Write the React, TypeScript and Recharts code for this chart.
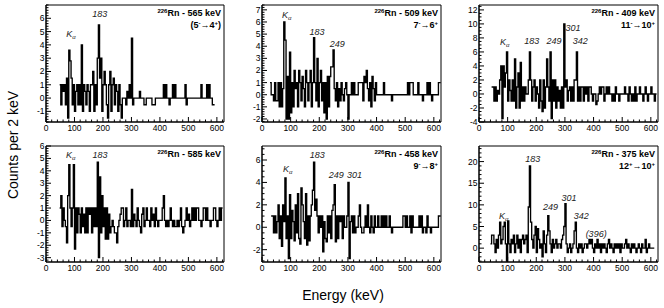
import React from 'react';
import { LineChart, Line, XAxis, YAxis, ReferenceArea, ReferenceDot } from 'recharts';

// histogram bins are 4 keV wide, each array starts at the given energy
const BIN = 4;
const X_MAX = 625;
const energyTicks = [0, 100, 200, 300, 400, 500, 600];

const rn565Start = 48;
const rn565 = [
  1, -0.5, 1, 0.5, 1, -0.5, 1.5, -1.5, 3.6, 2.8,
  1.5, -0.5, 1, -1, 0.5, 1, -0.5, 1, -0.5, 4,
  -1, 1, 0.5, -0.5, 1, 0.5, -1, 1, 1, 2,
  -1, 1, -0.5, 3, 5.5, 1.5, 3, -1, 1, 2,
  1, -0.5, -1.5, 1, 2, -1, 1, 1.5, -0.5, 1,
  0.5, -1, 1, -0.5, -1.5, 0, 0, 0, -0.5, 0.5,
  0, 1, 0, 4.5, -0.5, 0, 0, 0, 0, 0,
  0.5, 0, 0, 0, -0.5, -0.5, 0, 0, 0, 0,
  0, -0.5, -0.5, -0.5, 0, 0, 0, 0, 0, 0,
  0, 1, 0, 1, 0, 0, -0.5, 0, 0, 1,
  0, 1, 0, 0, 0, 0, 0, 0, 0, 0,
  1, -0.5, 0, 0, 0, 0, 0, 0, 0, 0,
  0, 0, 0, 0, 1, 0, 0, 0, 0, 1,
  0, 1, 0, 0, -0.5, -0.5,
];
const rn565YTicks = [-1, 0, 1, 2, 3, 4, 5, 6];
const rn565Peaks = [
  { text: 'Ka', e: 88, c: 4.8 },
  { text: '183', e: 189, c: 6.3 },
];

const rn509Start = 28;
const rn509 = [
  1, 0, 0, -0.5, 1, -0.5, -0.5, 1, -1, 1,
  -1, 0.5, 6, 4.5, -2, 1.5, -2, 3.5, -1.5, 1,
  -1, 2, 0.5, 1, -1, 2, 1, -0.5, 1.5, 0.5,
  -1, 2, 1, -0.5, 1, 2, -1, 1, 4.7, 1,
  -0.5, 3, -1, 1, 2, -0.5, 1, -1.5, 1, -2,
  1.5, -1, 1.5, 2.3, 2.3, 3.7, 0.5, -0.5, 1, -1,
  0.5, -0.5, 1, 0, -0.5, 0.5, 1, 0, -2, 0,
  0, 1, 0, 1, 0, 0, 0, 1, 1, 1,
  1, -0.5, 1.5, 1, 2, 0.5, -0.5, 1, -1, 1.5,
  0.5, -0.5, 1, 0, 0, 0, 0, 0, 0, 1,
  0, 0, 0, 0, 0, 0, -0.5, 0, 0, 0,
  0, 0, 0, 0, 0, 0, 0, 0, 0, 0,
  1, 0, 1, 1, 1, 0, 0, 0, 0, 1,
  0, 0, 0, -0.5, 0, 0, 0, 1, 0, 1,
  0, -0.5, 0, 0, 0, 0, 0, 1, 1,
];
const rn509YTicks = [-2, -1, 0, 1, 2, 3, 4, 5, 6, 7];
const rn509Peaks = [
  { text: 'Ka', e: 86, c: 6.6 },
  { text: '183', e: 192, c: 5.2 },
  { text: '249', e: 263, c: 4.2 },
];

const rn409Start = 44;
const rn409 = [
  1, 1, -1, 1, -1, 0.5, 0, 2, 4, -3.5,
  4, 1, 3, 6, -1, 2, 0.5, -1, 2, -1,
  5, -2, 1, 3, -2, 4.5, -1, 1, -1, 1,
  0, 0, 2, 6, 2, -1, 1, 2, -1, 1,
  0, -2, 2, -1, -2.5, 2, -2, 1, 5, 1,
  -1, 6, -3.5, 2, -1, 2, -2, 1, -1, 0.5,
  -2, 1, -2, 10, 1, 2, -1, 0.5, 1, -1,
  1, -1, 2, 2, 6, -1, 1, -1, 1, 1,
  -1, 1, 0, 1, -1, 1, 1, 0, -1, 0,
  0, -1.5, -1, 0, 1, 0, 1, 1, -1, 0,
  1, 0, 1, 0, 0, -1, 0, -1, 1, 0,
  0, -1, 0, 0, 0, 0, 1, 0, 0, -1,
  1, 0, -1, 0, -1, 1, -1, 0, 0, 1,
  0, 0, -1, 0, 1, 0, -1, 0, 0, 1,
  0, 0, -1, 0,
];
const rn409YTicks = [-4, -2, 0, 2, 4, 6, 8, 10, 12];
const rn409Peaks = [
  { text: 'Ka', e: 90, c: 7.4 },
  { text: '183', e: 184, c: 7.5 },
  { text: '249', e: 262, c: 7.5 },
  { text: '301', e: 328, c: 9.4 },
  { text: '342', e: 354, c: 7.5 },
];

const rn585Start = 48;
const rn585 = [
  1, 2, -0.5, 1, 0, -0.5, -1.8, 2, 4.5, 1,
  -0.5, 1, 4.5, -2.3, 1, -1, 1, 0.5, -1, 1,
  -0.5, 0.5, -1, 1, -1, 1, 0.5, 1, -1, 1,
  -0.5, 1, -0.5, 4.7, -3, 3.5, -1, 2, -0.5, 1,
  -1.5, 1, -1.5, 0.5, -1, -0.5, 0, -0.5, -1, -1,
  -1.8, -0.5, 0, 0.5, 1, 1, -0.5, 0, 1, -0.5,
  0, 0, -0.5, 2.5, -0.5, 0.5, 0, -0.5, 1, 0,
  -0.5, -1, 0.5, 1, -0.5, 0, 1, 0, 0, -0.5,
  1, 0, 0.5, -0.5, 1, 0, -0.5, 0, 0, 0,
  1, 2, 0, -0.5, 0, -0.5, 0, 1, 0, -0.5,
  0, -0.5, -0.5, 0, -0.5, 0, 1, -0.5, -1, -0.5,
  0, 1, 0, 0.5, -0.5, 0, 1, 0, 1, 0,
  1, 1, 0, 0, -0.5, 0, 1, 1, 0, 1,
  0, 0, -0.5, 0, 0, 1, 1, 0, -0.5, 0,
  1, 0, 1,
];
const rn585YTicks = [-3, -2, -1, 0, 1, 2, 3, 4, 5, 6];
const rn585Peaks = [
  { text: 'Ka', e: 87, c: 5.3 },
  { text: '183', e: 190, c: 5.3 },
];

const rn458Start = 32;
const rn458 = [
  1, 1, -0.5, 1, -0.5, 0.5, 2, -1, 1, -1.7,
  2, 0.5, 4.4, -1, 1, -2.8, 2.9, -1, 1.5, 0.5,
  -1.2, 2, -0.5, 3, -1, -1.5, 3.5, 2, 0.5, -1,
  3, -1.6, 1, -1.2, 1, 2, 3.3, 5.8, 1.5, 2.5,
  1, -0.5, 1, 0, 1, -2.2, 0.5, -1, -1.3, 1,
  -0.5, 1, -1, 1.5, 2, 3.8, -1.3, 1, -1, 1,
  0.5, 1, -1, 1, 0, 0, 1, 4, -2.8, 0.5,
  1, -0.5, 1, -0.5, 0, 0, 1, 2, 0, -0.5,
  -0.5, 0, 1, 0, 2, 0, -0.5, 1, 0, -0.5,
  1, 0, 0, 1, 0, 0, 1, 0, 1, 0,
  1, 0, 0, 1, 0, -0.5, 0, 0, 0, 0,
  0, 0, 0, 0, 0, 1, 1, 0, 1, 0,
  0, 1, -0.5, 1, 0, 0, 0, 0, 0, 1,
  0, 1, -0.5, 0, 0, -0.5, 1, 0, 0, -0.5,
  0, 0, 0, 0, 0, 0, 1, 1,
];
const rn458YTicks = [-2, 0, 2, 4, 6];
const rn458Peaks = [
  { text: 'Ka', e: 90, c: 5.2 },
  { text: '183', e: 193, c: 6.45 },
  { text: '249', e: 259, c: 4.7 },
  { text: '301', e: 323, c: 4.7 },
];

const rn375Start = 40;
const rn375 = [
  1, 3, 3, 1, -1, 2, 0, 3, 6, 1,
  2, 5, 6, 1, -3, 6.3, 1, -1, 2, 1,
  3, -1, 1, 3, 0, 2, -1, 2, 3, 1,
  2, 3, -1, 9.5, 19, 6, 2, 0, 3, 5,
  -1, 4.5, 2, 0, 1, -2, 4, 1, -1, 3,
  7.5, 4, 1, -1, 2, 0, 1, 2, 0, 1,
  1, 0, 2, 3, 5, 10.3, 1, -1, 0, 1,
  -1, 0, 1, 4, 6, 0, -1, 1, 0, 1,
  -1, 0, 1, 1, 0, 1, 2, 1, 2, 0,
  -1, 1, 0, 2, 0, 1, -1, 1, 0, 1,
  0, -1, 1, 2, 0, 1, 0, -1, 1, 0,
  1, 0, 1, -1, 1, 0, 0, 1, 2, 0,
  1, 0, -1, 1, 0, 1, 0, -1, 0, 1,
  0, -1, 1, 0, 0, 2, -1, 0, 1, 0,
  0, 0, 0,
];
const rn375YTicks = [0, 5, 10, 15, 20];
const rn375Peaks = [
  { text: 'Ka', e: 86, c: 7.5 },
  { text: '183', e: 188, c: 20.6 },
  { text: '249', e: 250, c: 9.6 },
  { text: '301', e: 314, c: 11.5 },
  { text: '342', e: 357, c: 7.5 },
  { text: '(396)', e: 409, c: 3.3 },
];

const panels = [
  { energy: '565', trans: ['5', '-', '4', '+'], paren: true, start: rn565Start, counts: rn565, yTicks: rn565YTicks, peaks: rn565Peaks,
    yDomain: [-1.8, 7], yMinor: 0.2, left: 46, right: 224, top: 5, bottom: 122 },
  { energy: '509', trans: ['7', '-', '6', '+'], paren: false, start: rn509Start, counts: rn509, yTicks: rn509YTicks, peaks: rn509Peaks,
    yDomain: [-2.25, 7.4], yMinor: 0.2, left: 262, right: 441, top: 5, bottom: 122 },
  { energy: '409', trans: ['11', '-', '10', '+'], paren: false, start: rn409Start, counts: rn409, yTicks: rn409YTicks, peaks: rn409Peaks,
    yDomain: [-4, 12.7], yMinor: 0.5, left: 479, right: 658, top: 5, bottom: 122 },
  { energy: '585', trans: null, paren: false, start: rn585Start, counts: rn585, yTicks: rn585YTicks, peaks: rn585Peaks,
    yDomain: [-3.35, 6], yMinor: 0.2, left: 46, right: 224, top: 146, bottom: 262 },
  { energy: '458', trans: ['9', '-', '8', '+'], paren: false, start: rn458Start, counts: rn458, yTicks: rn458YTicks, peaks: rn458Peaks,
    yDomain: [-3.1, 7.25], yMinor: 0.5, left: 262, right: 441, top: 146, bottom: 262 },
  { energy: '375', trans: ['12', '+', '10', '+'], paren: false, start: rn375Start, counts: rn375, yTicks: rn375YTicks, peaks: rn375Peaks,
    yDomain: [-3.2, 23.6], yMinor: 1, left: 479, right: 658, top: 146, bottom: 262 },
];

const FONT = '"Liberation Sans", Arial, Helvetica, sans-serif';

function toBins(start: number, counts: number[]) {
  const rows = counts.map((v, i) => ({ e: start + BIN * i, v }));
  rows.push({ e: start + BIN * counts.length, v: counts[counts.length - 1] });
  return rows;
}

function steps(lo: number, hi: number, step: number) {
  const out: number[] = [];
  for (let k = Math.ceil(lo / step - 1e-9); k * step <= hi + 1e-9; k++) {
    out.push(Math.round(k * step * 1000) / 1000);
  }
  return out;
}

const xMinorTicks = steps(0, X_MAX, 20);

const isMajor = (list: number[], v: number) => list.some((t) => Math.abs(t - v) < 1e-6);

function XTick(props: any) {
  const { x, y, payload } = props;
  const major = isMajor(energyTicks, payload.value);
  return (
    <g>
      <line x1={x} x2={x} y1={y} y2={y - (major ? 5 : 2.5)} stroke="#000" strokeWidth={1} />
      {major && (
        <text x={x} y={y + 8.5} textAnchor="middle" fontSize={8.5} fontFamily={FONT} fill="#000">
          {payload.value}
        </text>
      )}
    </g>
  );
}

function YTick(props: any) {
  const { x, y, payload, majors } = props;
  const major = isMajor(majors, payload.value);
  return (
    <g>
      <line x1={x} x2={x + (major ? 5 : 2.5)} y1={y} y2={y} stroke="#000" strokeWidth={1} />
      {major && (
        <text x={x - 1.5} y={y + 3} textAnchor="end" fontSize={8.5} fontFamily={FONT} fill="#000">
          {payload.value}
        </text>
      )}
    </g>
  );
}

const peakLabel = (text: string) => (props: any) => {
  const vb = props.viewBox || {};
  const x = vb.cx ?? vb.x + (vb.width || 0) / 2;
  const y = vb.cy ?? vb.y + (vb.height || 0) / 2;
  if (text === 'Ka') {
    return (
      <text x={x} y={y + 3} textAnchor="middle" fontSize={9} fontStyle="italic" fontFamily={FONT} fill="#222">
        <tspan>K</tspan>
        <tspan fontSize={6} dy={2}>α</tspan>
      </text>
    );
  }
  return (
    <text x={x} y={y + 3} textAnchor="middle" fontSize={9} fontStyle="italic" fontFamily={FONT} fill="#222">
      {text}
    </text>
  );
};

const supStyle: React.CSSProperties = { fontSize: '6px', verticalAlign: '3px', lineHeight: 0 };

function Title({ p }: { p: any }) {
  return (
    <div
      style={{
        position: 'absolute', left: p.right - 163, width: 160, top: p.top + 2, textAlign: 'right',
        fontFamily: FONT, fontWeight: 'bold', fontSize: '9px', lineHeight: '12px', color: '#000',
      }}
    >
      <div><sup style={supStyle}>226</sup>Rn - {p.energy} keV</div>
      {p.trans && (
        <div>
          {p.paren ? '(' : ''}{p.trans[0]}<sup style={supStyle}>{p.trans[1]}</sup>→{p.trans[2]}<sup style={supStyle}>{p.trans[3]}</sup>{p.paren ? ')' : ''}
        </div>
      )}
    </div>
  );
}

function Panel({ p }: { p: any }) {
  const AX = 30;
  const AY = 20;
  const PAD = 8;
  const w = p.right - p.left;
  const h = p.bottom - p.top;
  const data = toBins(p.start, p.counts);
  const yMinorTicks = steps(p.yDomain[0], p.yDomain[1], p.yMinor);
  return (
    <>
      <div style={{ position: 'absolute', left: p.left - AX, top: p.top - PAD }}>
        <LineChart width={w + AX + 3} height={h + PAD + AY} data={data} margin={{ top: PAD, right: 3, bottom: 0, left: 0 }}>
          <XAxis
            dataKey="e" type="number" domain={[0, X_MAX]} ticks={xMinorTicks} interval={0}
            tickSize={0} tickMargin={0} tickLine={false} height={AY} allowDataOverflow
            axisLine={{ stroke: '#000' }} tick={(tp: any) => <XTick {...tp} />}
          />
          <YAxis
            type="number" domain={p.yDomain} ticks={yMinorTicks} interval={0}
            tickSize={0} tickMargin={0} tickLine={false} width={AX} allowDataOverflow
            axisLine={{ stroke: '#000' }} tick={(tp: any) => <YTick {...tp} majors={p.yTicks} />}
          />
          <ReferenceArea x1={0} x2={X_MAX} y1={p.yDomain[0]} y2={p.yDomain[1]} fill="none" fillOpacity={0} stroke="#000" strokeWidth={1} />
          <Line type="stepAfter" dataKey="v" stroke="#000" strokeWidth={1.35} dot={false} isAnimationActive={false} />
          {p.peaks.map((pk: any) => (
            <ReferenceDot key={pk.text} x={pk.e} y={pk.c} r={0} fill="none" stroke="none" label={peakLabel(pk.text)} />
          ))}
        </LineChart>
      </div>
      <Title p={p} />
    </>
  );
}

export default function App() {
  return (
    <div style={{ position: 'absolute', left: 0, top: 0, width: 664, height: 308, background: '#fff', overflow: 'hidden' }}>
      {panels.map((p) => (
        <Panel key={p.energy} p={p} />
      ))}
      <div
        style={{
          position: 'absolute', left: 13 - 70, top: 145 - 9, width: 140, height: 18, lineHeight: '18px',
          textAlign: 'center', transform: 'rotate(-90deg)', fontFamily: FONT, fontSize: '14px', color: '#000',
        }}
      >
        Counts per 2 keV
      </div>
      <div
        style={{
          position: 'absolute', left: 343 - 70, top: 295 - 9, width: 140, height: 18, lineHeight: '18px',
          textAlign: 'center', fontFamily: FONT, fontSize: '14px', color: '#000',
        }}
      >
        Energy (keV)
      </div>
    </div>
  );
}
